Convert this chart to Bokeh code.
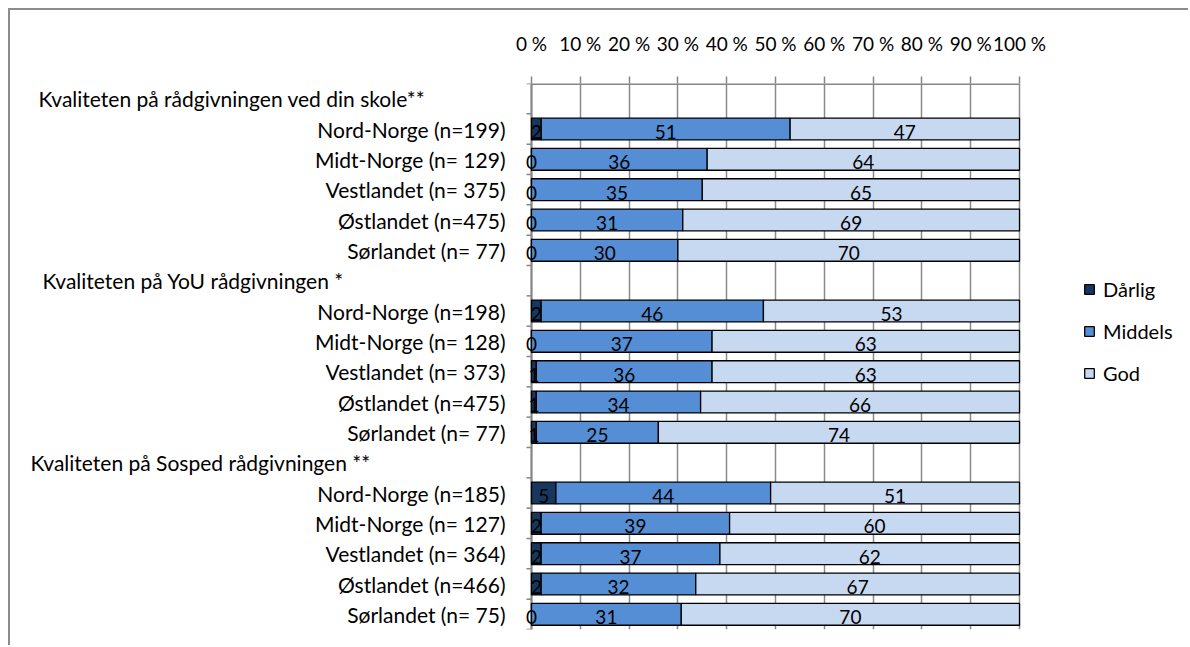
from bokeh.plotting import figure
from bokeh.models import (ColumnDataSource, Range1d, FixedTicker, LinearAxis, Legend, LegendItem)
from bokeh.core.properties import value
from bokeh.embed import file_html
from bokeh.resources import INLINE

# ---------------- data ----------------
groups = ["Kvaliteten på rådgivningen ved din skole**",
          "Kvaliteten på YoU rådgivningen *",
          "Kvaliteten på Sosped rådgivningen **"]
labels_skole = ["Nord-Norge (n=199)", "Midt-Norge (n= 129)", "Vestlandet (n= 375)",
                "Østlandet (n=475)", "Sørlandet (n= 77)"]
labels_you = ["Nord-Norge (n=198)", "Midt-Norge (n= 128)", "Vestlandet (n= 373)",
              "Østlandet (n=475)", "Sørlandet (n= 77)"]
labels_sosped = ["Nord-Norge (n=185)", "Midt-Norge (n= 127)", "Vestlandet (n= 364)",
                 "Østlandet (n=466)", "Sørlandet (n= 75)"]
darlig_skole = [2, 0, 0, 0, 0]
middels_skole = [51, 36, 35, 31, 30]
god_skole = [47, 64, 65, 69, 70]
darlig_you = [2, 0, 1, 1, 1]
middels_you = [46, 37, 36, 34, 25]
god_you = [53, 63, 63, 66, 74]
darlig_sosped = [5, 2, 2, 2, 0]
middels_sosped = [44, 39, 37, 32, 31]
god_sosped = [51, 60, 62, 67, 70]
series_names = ["Dårlig", "Middels", "God"]
x_ticks = [0, 10, 20, 30, 40, 50, 60, 70, 80, 90, 100]
x_tick_labels = ["0 %", "10 %", "20 %", "30 %", "40 %", "50 %", "60 %", "70 %", "80 %", "90 %", "100 %"]

# ---------------- style / layout ----------------
colors = ["#17375E", "#558ED5", "#C6D9F1"]
FONT = "Lato"
GRAY = "#868686"
CANVAS_X0, CANVAS_Y0 = 10, 10          # page position of canvas (after margin + border)
W, H = 1180, 637
AX0_PX, AX100_PX = 531, 1019           # page x of 0 % and 100 %
TOP_BORDER, BOTTOM_BORDER = 73, 18
ppu = (AX100_PX - AX0_PX) / (x_ticks[-1] - x_ticks[0])
x_start = x_ticks[0] + (CANVAS_X0 - AX0_PX) / ppu
x_end = x_ticks[0] + (CANVAS_X0 + W - AX0_PX) / ppu
header_offsets = [-493, -489, -501]

# ---------------- build rows ----------------
block_labels = [labels_skole, labels_you, labels_sosped]
block_vals = [(darlig_skole, middels_skole, god_skole),
              (darlig_you, middels_you, god_you),
              (darlig_sosped, middels_sosped, god_sosped)]

hdr = {"y": [], "t": [], "xo": []}
cat = {"y": [], "t": []}
bar_y, bar_vals = [], []
r = 0
for g, labs, vals, off in zip(groups, block_labels, block_vals, header_offsets):
    hdr["y"].append(r); hdr["t"].append(g); hdr["xo"].append(off)
    r += 1
    for i, lab in enumerate(labs):
        cat["y"].append(r); cat["t"].append(lab)
        bar_y.append(r)
        bar_vals.append([vals[0][i], vals[1][i], vals[2][i]])
        r += 1
n_rows = r

lab_src = {"x": [], "y": [], "t": []}
stack_src = [{"y": [], "left": [], "right": []} for _ in range(3)]
for y, v in zip(bar_y, bar_vals):
    tot = float(sum(v))
    acc = 0.0
    for s in range(3):
        l = acc / tot * 100
        acc += v[s]
        rr = acc / tot * 100
        stack_src[s]["y"].append(y)
        stack_src[s]["left"].append(l)
        stack_src[s]["right"].append(rr)
        lab_src["x"].append((l + rr) / 2)
        lab_src["y"].append(y)
        lab_src["t"].append(str(v[s]))

# ---------------- figure ----------------
p = figure(width=W, height=H, output_backend="svg", toolbar_location=None,
           x_range=Range1d(x_start, x_end), y_range=Range1d(n_rows - 0.5, -0.5),
           x_axis_location=None, y_axis_location=None,
           min_border_left=0, min_border_right=0,
           min_border_top=TOP_BORDER, min_border_bottom=BOTTOM_BORDER)
p.outline_line_color = None
p.background_fill_color = "white"
p.border_fill_color = "white"
p.styles = {"margin-left": "8px", "margin-top": "8px",
            "border-left": "2px solid #8c8c8c", "border-top": "2px solid #8c8c8c"}

# grid
p.xgrid.ticker = FixedTicker(ticks=x_ticks)
p.xgrid.grid_line_color = "#8a8a8a"
p.xgrid.grid_line_width = 1.5
p.ygrid.grid_line_color = None

# top axis (percent)
xa = LinearAxis(ticker=FixedTicker(ticks=x_ticks),
                major_label_overrides={t: s for t, s in zip(x_ticks, x_tick_labels)})
xa.axis_line_color = None
xa.major_tick_line_color = GRAY
xa.major_tick_line_width = 1.5
xa.major_tick_out = 7
xa.major_tick_in = 0
xa.minor_tick_line_color = None
xa.major_label_standoff = 22
xa.major_label_text_font = FONT
xa.major_label_text_font_size = "19px"
xa.major_label_text_color = "black"
p.add_layout(xa, "above")

# value-axis line along the top and category-axis line at 0 %
p.segment(x0=[x_ticks[0]], x1=[x_ticks[-1]], y0=[-0.5], y1=[-0.5], line_color=GRAY, line_width=3)
p.segment(x0=[x_ticks[0]], x1=[x_ticks[0]], y0=[-0.5], y1=[n_rows - 0.5], line_color=GRAY, line_width=2)
bounds = [i - 0.5 for i in range(n_rows + 1)]
p.segment(x0=[x_ticks[0] - 5 / ppu] * len(bounds), x1=[x_ticks[0]] * len(bounds),
          y0=bounds, y1=bounds, line_color=GRAY, line_width=1.5)

# bars
renderers = []
for s in range(3):
    src = ColumnDataSource(stack_src[s])
    rnd = p.hbar(y="y", left="left", right="right", height=0.72, source=src,
                 fill_color=colors[s], line_color="black", line_width=1.3)
    renderers.append(rnd)

# value labels
p.text(x="x", y="y", text="t", source=ColumnDataSource(lab_src),
       text_align="center", text_baseline="middle", y_offset=3,
       text_font=value(FONT), text_font_size="19px", text_color="black")

# category labels
p.text(x=x_ticks[0], y="y", text="t", source=ColumnDataSource(cat),
       x_offset=-26, text_align="right", text_baseline="middle",
       text_font=value(FONT), text_font_size="21px", text_color="black")

# group headers
p.text(x=x_ticks[0], y="y", text="t", source=ColumnDataSource(hdr),
       x_offset="xo", text_align="left", text_baseline="middle",
       text_font=value(FONT), text_font_size="21px", text_color="black")

# legend
legend = Legend(items=[LegendItem(label=n, renderers=[rn]) for n, rn in zip(series_names, renderers)],
                location=(1083 - CANVAS_X0, 244), orientation="vertical",
                glyph_width=12, glyph_height=12, label_standoff=8, label_height=20,
                spacing=18, padding=0, margin=0,
                border_line_color=None, background_fill_alpha=0,
                label_text_font=FONT, label_text_font_size="20px", label_text_color="black")
p.add_layout(legend)

open("out.html", "w").write(file_html(p, INLINE))
